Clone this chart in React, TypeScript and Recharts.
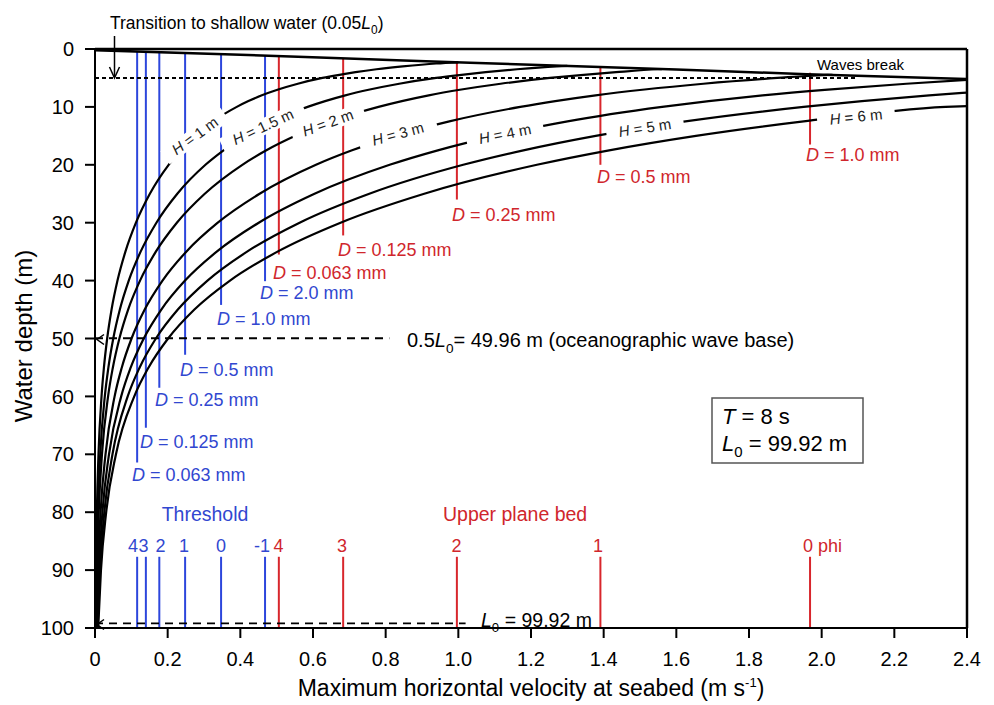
import React from 'react';
import { LineChart, Line, XAxis, YAxis, ReferenceLine } from 'recharts';

const FONT = '"Liberation Sans", Arial, Helvetica, sans-serif';
const BLUE = '#2c46dc';
const RED = '#d8262c';
const BLUE_TEXT = '#3147d0';
const RED_TEXT = '#d0262c';

// water depth (m) at which the wave curves are read, deep -> shallow
const depthSteps = [100, 90, 80, 70, 60, 55, 50, 45, 40, 35, 30, 25, 20, 17.5, 15, 12.5, 10, 9, 8, 7, 6, 5, 4.5, 4, 3.5, 3, 2.5];

const waveHeights = ['1', '1.5', '2', '3', '4', '5', '6'];

// max horizontal velocity at seabed (m/s) for each wave height, one value per depth step
const uH1 = [0.0015, 0.0027, 0.0051, 0.0096, 0.018, 0.0246, 0.0335, 0.0456, 0.0619, 0.0837, 0.1127, 0.151, 0.2027, 0.2359, 0.2757, 0.3251, 0.3902, 0.4223, 0.4593, 0.5042, 0.5582, 0.6261, 0.6685, 0.717, 0.7746, 0.847, 0.939];
const uH15 = [0.0022, 0.0041, 0.0077, 0.0144, 0.027, 0.0369, 0.0503, 0.0684, 0.0929, 0.1256, 0.169, 0.2265, 0.304, 0.3538, 0.4135, 0.4876, 0.5852, 0.6333, 0.6889, 0.7563, 0.8372, 0.9391, 1.0027, 1.0754, 1.1617, 1.2705];
const uH2 = [0.0029, 0.0055, 0.0103, 0.0192, 0.036, 0.0492, 0.0671, 0.0912, 0.1239, 0.1675, 0.2253, 0.3021, 0.4055, 0.4717, 0.5514, 0.6502, 0.7803, 0.8445, 0.9186, 1.0085, 1.1164, 1.2522, 1.3371, 1.434, 1.5491];
const uH3 = [0.0044, 0.0082, 0.0154, 0.0289, 0.054, 0.0738, 0.1006, 0.1368, 0.1858, 0.2512, 0.3379, 0.4531, 0.6082, 0.7075, 0.827, 0.9752, 1.1704, 1.2667, 1.3778, 1.5126, 1.6745, 1.8782, 2.0055];
const uH4 = [0.0058, 0.011, 0.0205, 0.0385, 0.0721, 0.0984, 0.1342, 0.1825, 0.2478, 0.335, 0.4507, 0.6042, 0.811, 0.9435, 1.1029, 1.3005, 1.5609, 1.6892, 1.8374, 2.0172, 2.2331];
const uH5 = [0.0073, 0.0137, 0.0257, 0.0481, 0.09, 0.1229, 0.1676, 0.228, 0.3096, 0.4186, 0.5631, 0.755, 1.0134, 1.179, 1.378, 1.625, 1.9503, 2.1108, 2.2959];
const uH6 = [0.0088, 0.0164, 0.0308, 0.0577, 0.1081, 0.1475, 0.2012, 0.2736, 0.3716, 0.5023, 0.6758, 0.9062, 1.2163, 1.415, 1.6539, 1.9503, 2.3408];

// where each curve stops (on the breaking line or at the right edge)
const endU = [1.0, 1.3, 1.56, 2.03, 2.4, 2.4, 2.4];
const endDepth = [2.3, 2.9, 3.47, 4.45, 5.33, 7.52, 9.85];

// waves break line
const breakU = [0, 0.4, 0.83, 1.2, 1.6, 1.96, 2.4];
const breakDepth = [0.2, 1.0, 1.95, 2.7, 3.55, 4.35, 5.2];

const xTicks = [0, 0.2, 0.4, 0.6, 0.8, 1.0, 1.2, 1.4, 1.6, 1.8, 2.0, 2.2, 2.4];
const yTicks = [0, 10, 20, 30, 40, 50, 60, 70, 80, 90, 100];

// threshold of motion (blue)
const thresholdMm = ['0.063', '0.125', '0.25', '0.5', '1.0', '2.0'];
const thresholdPhi = ['4', '3', '2', '1', '0', '-1'];
const thresholdU = [0.116, 0.14, 0.177, 0.248, 0.347, 0.468];
const thresholdTop = [0.4, 0.5, 0.6, 0.7, 0.9, 1.1];
const thresholdBottom = [71.4, 65.4, 58.5, 52.8, 44.2, 40.1];

// upper plane bed (red)
const upperMm = ['0.063', '0.125', '0.25', '0.5', '1.0'];
const upperPhi = ['4', '3', '2', '1', '0 phi'];
const upperU = [0.506, 0.683, 0.996, 1.391, 1.968];
const upperTop = [1.3, 1.6, 2.2, 3.1, 4.1];
const upperBottom = [35.5, 32.2, 26, 20, 16.5];
const phiBarTop = 87.7;

const shallowDepth = 5; // 0.05 L0
const shallowEndU = 2.1;
const waveBase = 49.96; // 0.5 L0
const waveBaseEndU = 0.81;
const deepLine = 99.2; // L0 line as drawn
const deepEndU = 1.02;

const curves = [uH1, uH15, uH2, uH3, uH4, uH5, uH6].map((us, i) => [
  ...us.map((u, j) => ({ x: u, y: depthSteps[j] })),
  { x: endU[i], y: endDepth[i] },
]);
const breakData = breakU.map((u, i) => ({ x: u, y: breakDepth[i] }));

// label layout (pixels)
const hLabelPos = [
  { cx: 195, cy: 136, a: -36, w: 74 },
  { cx: 263, cy: 127, a: -25, w: 90 },
  { cx: 328, cy: 123, a: -20, w: 76 },
  { cx: 398, cy: 134, a: -15, w: 80 },
  { cx: 505, cy: 134, a: -11, w: 78 },
  { cx: 645, cy: 128, a: -9, w: 78 },
  { cx: 856, cy: 117, a: -6, w: 78 },
];
const thresholdLabelPos = [[132, 481], [140, 448], [155, 406], [180, 376], [217, 325], [260, 299]];
const upperLabelPos = [[273, 279], [338, 256], [452, 221], [597, 183], [806, 161]];
const thresholdPhiX = [133, 143.5, 160.5, 184, 221, 262];
const upperPhiX = [278.5, 342, 456.5, 598, 803];

const L0 = ({ size, children }: { size: number; children?: React.ReactNode }) => (
  <>
    <tspan fontStyle="italic">L</tspan>
    <tspan fontSize={size * 0.68} dy={size * 0.28}>0</tspan>
    <tspan dy={-size * 0.28}>{children}</tspan>
  </>
);

function Overlay() {
  return (
    <svg width={994} height={705} style={{ position: 'absolute', left: 0, top: 0, fontFamily: FONT, pointerEvents: 'none' }}>
      {/* curve labels with white backing that breaks the lines */}
      {hLabelPos.map((p, i) => (
        <g key={i} transform={`translate(${p.cx},${p.cy}) rotate(${p.a})`}>
          <rect x={-p.w / 2} y={-8} width={p.w} height={16} fill="#fff" />
          <text x={0} y={5} textAnchor="middle" fontSize={15} fill="#222">
            <tspan fontStyle="italic">H</tspan> = {waveHeights[i]} m
          </text>
        </g>
      ))}

      {thresholdMm.map((d, i) => (
        <text key={'tl' + i} x={thresholdLabelPos[i][0]} y={thresholdLabelPos[i][1]} fontSize={18} fill={BLUE_TEXT}>
          <tspan fontStyle="italic">D</tspan> = {d} mm
        </text>
      ))}
      {upperMm.map((d, i) => (
        <text key={'ul' + i} x={upperLabelPos[i][0]} y={upperLabelPos[i][1]} fontSize={18} fill={RED_TEXT}>
          <tspan fontStyle="italic">D</tspan> = {d} mm
        </text>
      ))}

      <text x={205} y={521} textAnchor="middle" fontSize={19.5} fill={BLUE_TEXT}>Threshold</text>
      <text x={443} y={521} fontSize={19.5} fill={RED_TEXT}>Upper plane bed</text>
      {thresholdPhi.map((p, i) => (
        <text key={'tp' + i} x={thresholdPhiX[i]} y={551.5} textAnchor="middle" fontSize={18} fill={BLUE_TEXT}>{p}</text>
      ))}
      {upperPhi.map((p, i) => (
        <text key={'up' + i} x={upperPhiX[i]} y={551.5} textAnchor={i === upperPhi.length - 1 ? 'start' : 'middle'} fontSize={18} fill={RED_TEXT}>{p}</text>
      ))}

      <text x={110} y={29} fontSize={17.5}>
        Transition to shallow water (0.05<L0 size={17.5}>)</L0>
      </text>
      <line x1={114.5} y1={36} x2={114.5} y2={77} stroke="#000" strokeWidth={1.5} />
      <path d="M109.5,67 L114.5,78 L119.5,67" fill="none" stroke="#000" strokeWidth={1.5} />

      <text x={817} y={70} fontSize={15}>Waves break</text>

      <text x={407} y={347} fontSize={20}>
        0.5<L0 size={20}>= 49.96 m (oceanographic wave base)</L0>
      </text>
      <path d="M104,334.5 L97,339.5 L104,344.5" fill="none" stroke="#000" strokeWidth={1.5} />

      <text x={481} y={627} fontSize={19.5}>
        <L0 size={19.5}> = 99.92 m</L0>
      </text>
      <path d="M104,619.5 L97,624.5 L104,629.5" fill="none" stroke="#000" strokeWidth={1.5} />

      <rect x={712} y={398} width={151} height={65} fill="#fff" stroke="#555" strokeWidth={1.5} />
      <text x={722} y={424} fontSize={22}>
        <tspan fontStyle="italic">T</tspan>  = 8 s
      </text>
      <text x={722} y={451} fontSize={22}>
        <L0 size={22}> = 99.92 m</L0>
      </text>

      <text x={531} y={696} textAnchor="middle" fontSize={23}>
        Maximum horizontal velocity at seabed (m s<tspan dy={-9} fontSize={13}>-1</tspan><tspan dy={9}>)</tspan>
      </text>
      <text transform="translate(23,336) rotate(-90)" textAnchor="middle" dominantBaseline="central" fontSize={24}>
        Water depth (m)
      </text>
    </svg>
  );
}

export default function App() {
  return (
    <div style={{ position: 'absolute', left: 0, top: 0, width: 994, height: 705, background: '#fff' }}>
      <LineChart width={994} height={705} margin={{ top: 49, right: 27, bottom: 0, left: 0 }} style={{ fontFamily: FONT }}>
        <XAxis
          type="number"
          dataKey="x"
          domain={[0, 2.4]}
          ticks={xTicks}
          interval={0}
          allowDataOverflow
          height={77}
          tickSize={10}
          tickMargin={14}
          tick={{ fill: '#000', fontSize: 20, fontFamily: FONT }}
          tickFormatter={(v: number) => (v === 0 ? '0' : v.toFixed(1))}
          axisLine={{ stroke: '#000', strokeWidth: 2 }}
          tickLine={{ stroke: '#000', strokeWidth: 2 }}
        />
        <YAxis
          type="number"
          dataKey="y"
          domain={[0, 100]}
          reversed
          ticks={yTicks}
          interval={0}
          allowDataOverflow
          width={95}
          tickSize={10}
          tickMargin={11}
          tick={{ fill: '#000', fontSize: 20, fontFamily: FONT }}
          axisLine={{ stroke: '#000', strokeWidth: 2 }}
          tickLine={{ stroke: '#000', strokeWidth: 2 }}
        />
        <ReferenceLine y={0} stroke="#000" strokeWidth={2.5} />
        <ReferenceLine x={2.4} stroke="#000" strokeWidth={2.5} />

        {thresholdU.map((u, i) => (
          <ReferenceLine key={'tu' + i} segment={[{ x: u, y: thresholdTop[i] }, { x: u, y: thresholdBottom[i] }]} stroke={BLUE} strokeWidth={2} />
        ))}
        {thresholdU.map((u, i) => (
          <ReferenceLine key={'tb' + i} segment={[{ x: u, y: phiBarTop }, { x: u, y: 100 }]} stroke={BLUE} strokeWidth={2} />
        ))}
        {upperU.map((u, i) => (
          <ReferenceLine key={'uu' + i} segment={[{ x: u, y: upperTop[i] }, { x: u, y: upperBottom[i] }]} stroke={RED} strokeWidth={2} />
        ))}
        {upperU.map((u, i) => (
          <ReferenceLine key={'ub' + i} segment={[{ x: u, y: phiBarTop }, { x: u, y: 100 }]} stroke={RED} strokeWidth={2} />
        ))}

        <ReferenceLine segment={[{ x: 0, y: shallowDepth }, { x: shallowEndU, y: shallowDepth }]} stroke="#000" strokeWidth={2} strokeDasharray="4 3" />
        <ReferenceLine segment={[{ x: 0, y: waveBase }, { x: waveBaseEndU, y: waveBase }]} stroke="#000" strokeWidth={1.8} strokeDasharray="8 6" />
        <ReferenceLine segment={[{ x: 0, y: deepLine }, { x: deepEndU, y: deepLine }]} stroke="#000" strokeWidth={1.8} strokeDasharray="8 6" />

        {curves.map((d, i) => (
          <Line
            key={'h' + i}
            data={d}
            dataKey="y"
            type="monotone"
            stroke="#000"
            strokeWidth={2.2}
            dot={false}
            activeDot={false}
            isAnimationActive={false}
          />
        ))}
        <Line data={breakData} dataKey="y" type="monotone" stroke="#000" strokeWidth={2.5} dot={false} activeDot={false} isAnimationActive={false} />
      </LineChart>
      <Overlay />
    </div>
  );
}
